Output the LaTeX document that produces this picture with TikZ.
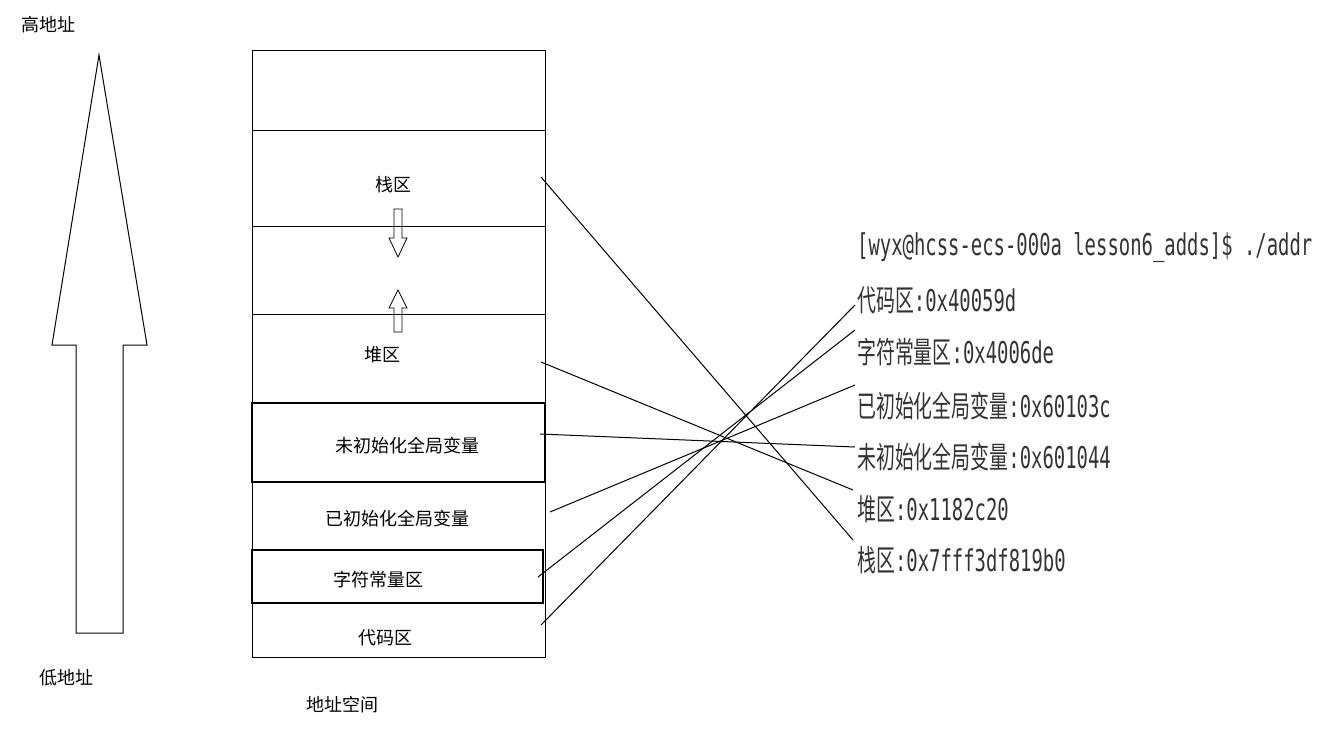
\documentclass[tikz,border=0pt]{standalone}
\usepackage{fontspec}
\setmainfont{Noto Sans CJK SC}
\newfontfamily\cjk[FakeStretch=0.63]{Noto Sans CJK SC}
\newfontfamily\mono[FakeStretch=0.63]{DejaVu Sans Mono}
\begin{document}
\begin{tikzpicture}[x=1pt,y=-1pt,
  lab/.style={font=\fontsize{18}{21}\selectfont},
  term/.style={anchor=west,font=\fontsize{30}{32}\selectfont,text=black!80,inner sep=0},
  conn/.style={line width=1pt},
  thick box/.style={draw,line width=1.6pt}]
\useasboundingbox (0,0) rectangle (1320,736);
% big arrow
\draw[line width=1pt] (76,633) -- (76,345) -- (52,345) -- (99,55) -- (147,345) -- (123,345) -- (123,633) -- cycle;
\node[lab] (hi) at (48,25) {高地址};
\node[lab] (lo) at (66,678) {低地址};
% column
\draw[line width=1pt] (252,50) rectangle (545,657);
\draw[line width=1pt] (252,130) rectangle (545,226);
\draw[line width=1pt] (252,314) rectangle (545,403);
\draw[thick box] (252,403) rectangle (545,482);
\draw[thick box] (252,550) rectangle (543,603);
\node[lab] (stack) at (393,185) {栈区};
\node[lab] (heap) at (382,355) {堆区};
\node[lab] (bss) at (407,446) {未初始化全局变量};
\node[lab] (data) at (397,519) {已初始化全局变量};
\node[lab] (ro) at (378,580) {字符常量区};
\node[lab] (code) at (385,638) {代码区};
\node[lab] (as) at (342,705) {地址空间};
% small hollow arrows
\draw[line width=0.8pt] (394,209) -- (402,209) -- (402,238) -- (407,238) -- (398,257) -- (389,238) -- (394,238) -- cycle;
\draw[line width=0.8pt] (394,332) -- (402,332) -- (402,308) -- (407,308) -- (398,290) -- (389,308) -- (394,308) -- cycle;
% terminal text
\node[term] (t0) at (857,248) {\mono [wyx@hcss-ecs-000a lesson6\_adds]\$ ./addr};
\node[term] (t1) at (857,300) {\cjk 代码区\mono :0x40059d};
\node[term] (t2) at (857,352) {\cjk 字符常量区\mono :0x4006de};
\node[term] (t3) at (857,406) {\cjk 已初始化全局变量\mono :0x60103c};
\node[term] (t4) at (857,457) {\cjk 未初始化全局变量\mono :0x601044};
\node[term] (t5) at (857,509) {\cjk 堆区\mono :0x1182c20};
\node[term] (t6) at (857,560) {\cjk 栈区\mono :0x7fff3df819b0};
% connectors
\coordinate (sA) at (541,177); \coordinate (sB) at (853,540);
\coordinate (hA) at (541,362); \coordinate (hB) at (853,490);
\coordinate (bA) at (540,434); \coordinate (bB) at (855,447);
\coordinate (dA) at (550,512); \coordinate (dB) at (855,385);
\coordinate (rA) at (538,577); \coordinate (rB) at (855,330);
\coordinate (cA) at (541,625); \coordinate (cB) at (855,305);
\draw[conn] (sA) -- (sB);
\draw[conn] (hA) -- (hB);
\draw[conn] (bA) -- (bB);
\draw[conn] (dA) -- (dB);
\draw[conn] (rA) -- (rB);
\draw[conn] (cA) -- (cB);
\end{tikzpicture}
\end{document}
